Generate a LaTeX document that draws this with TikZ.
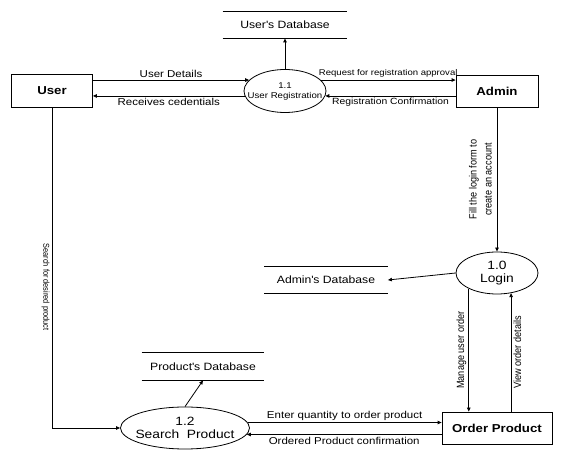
\documentclass[tikz,border=0pt]{standalone}
\usepackage{fontspec}
\setmainfont{Liberation Sans}[FakeStretch=1.15]
\newfontfamily\rotfont{Liberation Sans}[FakeStretch=0.87]
\usetikzlibrary{shapes.geometric,arrows.meta}
\begin{document}
\begin{tikzpicture}[x=1pt,y=1pt,line width=0.8pt,
  ent/.style={draw, inner sep=0pt, font=\fontsize{11.5}{13}\selectfont\bfseries},
  proc/.style={ellipse, draw, inner sep=0pt},
  ptext/.style={align=center, inner sep=0pt, font=\fontsize{12}{13}\selectfont},
  store/.style={inner sep=0pt, font=\fontsize{10.6}{12}\selectfont},
  flow/.style={-{Triangle[length=4pt,width=3.5pt]}},
  lbl/.style={font=\fontsize{10}{12}\selectfont, inner sep=2pt},
  vlbl/.style={font=\rotfont\fontsize{10.5}{15}\selectfont, rotate=90, inner sep=2pt}]
\useasboundingbox (0,0) rectangle (582,461);
% external entities
\node[ent, minimum width=81pt, minimum height=33pt] (user) at (52,370){User};
\node[ent, minimum width=82pt, minimum height=32pt] (admin) at (497,370){Admin};
\node[ent, minimum width=110pt, minimum height=32pt] (order) at (497,33){Order Product};
% processes
\node[proc, minimum width=82pt, minimum height=43pt, label={[ptext, font=\fontsize{8.4}{10}\selectfont]center:1.1\\User Registration}] (reg) at (285,370){};
\node[proc, minimum width=82pt, minimum height=42pt, label={[ptext]center:1.0\\Login}] (login) at (497,188){};
\node[proc, minimum width=129pt, minimum height=42pt, label={[ptext]center:1.2\\Search\ \ Product}] (search) at (185,33){};
% data stores
\node[store, minimum width=124pt, minimum height=26pt] (udb) at (285,436){User\textquotesingle s Database};
\node[store, minimum width=123pt, minimum height=26pt] (adb) at (326,181){Admin\textquotesingle s Database};
\node[store, minimum width=122pt, minimum height=27pt] (pdb) at (203,94.5){Product\textquotesingle s Database};
\draw (udb.north west) -- (udb.north east) (udb.south west) -- (udb.south east);
\draw (adb.north west) -- (adb.north east) (adb.south west) -- (adb.south east);
\draw (pdb.north west) -- (pdb.north east) (pdb.south west) -- (pdb.south east);
% data flows
\draw[flow] (user.east |- reg.163) -- node[lbl, above]{User Details} (reg.163);
\draw[flow] (reg.187) -- node[lbl, below]{Receives cedentials} (reg.187 -| user.east);
\draw[flow] (reg.17) -- node[lbl, above, font=\fontsize{8.3}{10}\selectfont]{Request for registration approval} (reg.17 -| admin.west);
\draw[flow] (admin.west |- reg.353) -- node[lbl, below, font=\fontsize{9}{11}\selectfont]{Registration Confirmation} (reg.353);
\draw[flow] (reg.north) -- (udb.south);
\draw[flow] (admin.south) -- node[vlbl, align=center, anchor=south, inner sep=5pt]{Fill the login form to\\create an account} (login.north);
\draw[flow] (login.west) -- (adb.east);
\draw[flow] (login.209) -- node[vlbl, anchor=south]{Manage user order} (login.209 |- order.north);
\draw[flow] (login.305 |- order.north) -- node[vlbl, anchor=north]{View order details} (login.305);
\draw[flow] (user.south) -- node[pos=0.56, vlbl, rotate=180, anchor=north, font=\rotfont\fontsize{8.5}{10}\selectfont]{Search for desired product} (user.south |- search.west) -- (search.west);
\draw[flow] (search.north) -- (pdb.south);
\draw[flow] (search.5) -- node[lbl, above]{Enter quantity to order product} (search.5 -| order.west);
\draw[flow] (order.west |- search.354) -- node[lbl, below]{Ordered Product confirmation} (search.354);
\end{tikzpicture}
\end{document}
